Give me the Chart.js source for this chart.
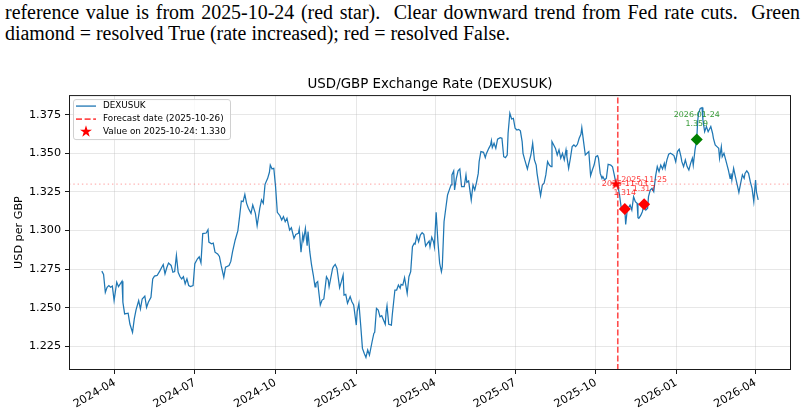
<!DOCTYPE html>
<html>
<head>
<meta charset="utf-8">
<script src="https://cdn.jsdelivr.net/npm/chart.js@4.4.1/dist/chart.umd.min.js"></script>
<style>
  html, body { margin: 0; padding: 0; background: #fff; }
  #wrap { position: relative; width: 804px; height: 418px; overflow: hidden; }
  #caption {
    position: absolute; left: 5px; top: 2px;
    font-family: "Liberation Serif", "Times New Roman", serif;
    font-size: 20px; line-height: 21px; color: #000;
    white-space: nowrap; transform-origin: 0 0;
  }
  #caption div { height: 21px; }
  canvas { position: absolute; left: 0; top: 0; }
</style>
</head>
<body>
<div id="wrap">
  <div id="caption">
    <div><span id="cap1">reference value is from 2025-10-24 (red star).&nbsp; Clear downward trend from Fed rate cuts.&nbsp; Green</span></div>
    <div><span id="cap2">diamond = resolved True (rate increased); red = resolved False.</span></div>
  </div>
  <canvas id="fxChart" width="804" height="418"></canvas>
</div>
<script>
// ----- Data -----
const dates = [
  "2024-03-17","2024-03-19","2024-03-21","2024-03-23","2024-03-25","2024-03-27","2024-03-29","2024-03-31",
  "2024-04-03","2024-04-05","2024-04-07","2024-04-09","2024-04-10","2024-04-12","2024-04-16","2024-04-18",
  "2024-04-21","2024-04-23","2024-04-25","2024-04-28","2024-04-30","2024-05-02","2024-05-05","2024-05-07",
  "2024-05-09","2024-05-12","2024-05-14","2024-05-16","2024-05-19","2024-05-22","2024-05-24","2024-05-26",
  "2024-05-28","2024-05-30","2024-06-01","2024-06-04","2024-06-06","2024-06-08","2024-06-10","2024-06-12",
  "2024-06-14","2024-06-16","2024-06-18","2024-06-20","2024-06-22","2024-06-24","2024-06-26","2024-06-29",
  "2024-07-01","2024-07-04","2024-07-06","2024-07-08","2024-07-10","2024-07-14","2024-07-16","2024-07-17",
  "2024-07-20","2024-07-22","2024-07-24","2024-07-27","2024-07-29","2024-07-31","2024-08-03","2024-08-05",
  "2024-08-09","2024-08-11","2024-08-13","2024-08-16","2024-08-19","2024-08-21","2024-08-23","2024-08-25",
  "2024-08-27","2024-08-29","2024-08-31","2024-09-03","2024-09-05","2024-09-08","2024-09-10","2024-09-13",
  "2024-09-15","2024-09-17","2024-09-19","2024-09-22","2024-09-24","2024-09-25","2024-09-27","2024-09-29",
  "2024-10-01","2024-10-03","2024-10-06","2024-10-08","2024-10-10","2024-10-12","2024-10-14","2024-10-17",
  "2024-10-19","2024-10-22","2024-10-24","2024-10-27","2024-10-28","2024-10-30","2024-11-01","2024-11-02",
  "2024-11-04","2024-11-06","2024-11-07","2024-11-09","2024-11-11","2024-11-13","2024-11-15","2024-11-16",
  "2024-11-18","2024-11-19","2024-11-21","2024-11-23","2024-11-25","2024-11-28","2024-11-30","2024-12-01",
  "2024-12-05","2024-12-06","2024-12-08","2024-12-10","2024-12-13","2024-12-15","2024-12-17","2024-12-18",
  "2024-12-20","2024-12-22","2024-12-25","2024-12-27","2024-12-29","2025-01-01","2025-01-02","2025-01-04",
  "2025-01-06","2025-01-08","2025-01-10","2025-01-12","2025-01-14","2025-01-16","2025-01-19","2025-01-21",
  "2025-01-22","2025-01-24","2025-01-26","2025-01-28","2025-01-30","2025-02-01","2025-02-03","2025-02-04",
  "2025-02-05","2025-02-07","2025-02-10","2025-02-11","2025-02-14","2025-02-16","2025-02-18","2025-02-20",
  "2025-02-21","2025-02-23","2025-02-25","2025-02-28","2025-03-02","2025-03-04","2025-03-06","2025-03-08",
  "2025-03-09","2025-03-11","2025-03-13","2025-03-15","2025-03-17","2025-03-19","2025-03-21","2025-03-23",
  "2025-03-25","2025-03-26","2025-03-28","2025-03-30","2025-03-31","2025-04-02","2025-04-04","2025-04-06",
  "2025-04-08","2025-04-09","2025-04-11","2025-04-13","2025-04-15","2025-04-17","2025-04-19","2025-04-20",
  "2025-04-22","2025-04-23","2025-04-25","2025-04-27","2025-04-29","2025-05-01","2025-05-04","2025-05-06",
  "2025-05-07","2025-05-09","2025-05-12","2025-05-14","2025-05-16","2025-05-18","2025-05-20","2025-05-21",
  "2025-05-23","2025-05-26","2025-05-28","2025-05-29","2025-06-01","2025-06-03","2025-06-04","2025-06-05",
  "2025-06-07","2025-06-09","2025-06-11","2025-06-14","2025-06-16","2025-06-18","2025-06-20","2025-06-22",
  "2025-06-23","2025-06-25","2025-06-27","2025-06-29","2025-07-01","2025-07-03","2025-07-05","2025-07-07",
  "2025-07-09","2025-07-10","2025-07-12","2025-07-15","2025-07-16","2025-07-19","2025-07-21","2025-07-23",
  "2025-07-25","2025-07-26","2025-07-28","2025-07-30","2025-08-01","2025-08-03","2025-08-05","2025-08-07",
  "2025-08-09","2025-08-11","2025-08-12","2025-08-14","2025-08-16","2025-08-18","2025-08-20","2025-08-22",
  "2025-08-24","2025-08-26","2025-08-28","2025-08-29","2025-08-31","2025-09-02","2025-09-04","2025-09-06",
  "2025-09-08","2025-09-10","2025-09-12","2025-09-14","2025-09-15","2025-09-17","2025-09-19","2025-09-21",
  "2025-09-23","2025-09-25","2025-09-27","2025-09-29","2025-10-01","2025-10-03","2025-10-04","2025-10-06",
  "2025-10-08","2025-10-09","2025-10-11","2025-10-13","2025-10-15","2025-10-18","2025-10-20","2025-10-22",
  "2025-10-24","2025-10-26","2025-10-28","2025-10-30","2025-11-01","2025-11-02","2025-11-03","2025-11-04",
  "2025-11-06","2025-11-08","2025-11-09","2025-11-11","2025-11-13","2025-11-15","2025-11-17","2025-11-18",
  "2025-11-19","2025-11-21","2025-11-23","2025-11-25","2025-11-27","2025-11-29","2025-11-30","2025-12-02",
  "2025-12-04","2025-12-06","2025-12-08","2025-12-10","2025-12-12","2025-12-14","2025-12-16","2025-12-18",
  "2025-12-19","2025-12-21","2025-12-23","2025-12-25","2025-12-27","2025-12-29","2025-12-31","2026-01-02",
  "2026-01-04","2026-01-06","2026-01-07","2026-01-09","2026-01-11","2026-01-13","2026-01-15","2026-01-17",
  "2026-01-19","2026-01-20","2026-01-22","2026-01-24","2026-01-25","2026-01-26","2026-01-28","2026-01-30",
  "2026-01-31","2026-02-02","2026-02-04","2026-02-06","2026-02-08","2026-02-09","2026-02-11","2026-02-12",
  "2026-02-14","2026-02-16","2026-02-18","2026-02-19","2026-02-21","2026-02-22","2026-02-24","2026-02-26",
  "2026-02-28","2026-03-01","2026-03-03","2026-03-04","2026-03-05","2026-03-07","2026-03-09","2026-03-11",
  "2026-03-13","2026-03-15","2026-03-17","2026-03-19","2026-03-20","2026-03-22","2026-03-24","2026-03-26",
  "2026-03-28","2026-03-30","2026-04-01","2026-04-02","2026-04-04"
];
const rates = [
  1.2737,1.2715,1.2600,1.2633,1.2644,1.2633,1.2640,1.2547,
  1.2666,1.2637,1.2655,1.2672,1.2536,1.2460,1.2465,1.2395,
  1.2341,1.2428,1.2486,1.2547,1.2493,1.2557,1.2575,1.2503,
  1.2536,1.2568,1.2687,1.2705,1.2709,1.2737,1.2759,1.2780,
  1.2720,1.2759,1.2789,1.2774,1.2730,1.2735,1.2839,1.2730,
  1.2702,1.2687,1.2702,1.2655,1.2687,1.2644,1.2637,1.2644,
  1.2785,1.2817,1.2830,1.2791,1.2980,1.2984,1.3005,1.2925,
  1.2914,1.2918,1.2860,1.2849,1.2832,1.2774,1.2698,1.2763,
  1.2774,1.2800,1.2863,1.2939,1.2997,1.3090,1.3191,1.3187,
  1.3234,1.3176,1.3144,1.3111,1.3165,1.3111,1.3031,1.3144,
  1.3198,1.3176,1.3299,1.3338,1.3377,1.3424,1.3399,1.3403,
  1.3284,1.3118,1.3096,1.3068,1.3090,1.3057,1.3079,1.3003,
  1.3018,1.2949,1.2975,1.2982,1.3010,1.2859,1.2971,1.2939,
  1.3014,1.2902,1.2993,1.2863,1.2777,1.2712,1.2636,1.2658,
  1.2669,1.2615,1.2518,1.2550,1.2557,1.2701,1.2680,1.2636,
  1.2755,1.2766,1.2781,1.2755,1.2630,1.2669,1.2712,1.2582,
  1.2587,1.2529,1.2572,1.2539,1.2518,1.2388,1.2475,1.2529,
  1.2388,1.2237,1.2205,1.2178,1.2227,1.2194,1.2280,1.2334,
  1.2341,1.2496,1.2485,1.2442,1.2449,1.2421,1.2393,1.2475,
  1.2513,1.2393,1.2388,1.2453,1.2615,1.2615,1.2647,1.2626,
  1.2651,1.2647,1.2695,1.2593,1.2701,1.2734,1.2895,1.2917,
  1.2912,1.2967,1.2928,1.2971,1.2986,1.2975,1.2900,1.2917,
  1.2932,1.2895,1.2957,1.2928,1.2895,1.3118,1.2928,1.2788,
  1.2734,1.2766,1.3057,1.3144,1.3230,1.3263,1.3295,1.3360,
  1.3386,1.3263,1.3338,1.3386,1.3399,1.3284,1.3284,1.3360,
  1.3312,1.3321,1.3198,1.3295,1.3263,1.3312,1.3370,1.3446,
  1.3511,1.3506,1.3472,1.3494,1.3532,1.3554,1.3582,1.3537,
  1.3565,1.3532,1.3591,1.3601,1.3597,1.3478,1.3472,1.3489,
  1.3630,1.3759,1.3722,1.3726,1.3662,1.3651,1.3655,1.3645,
  1.3576,1.3500,1.3457,1.3399,1.3424,1.3489,1.3565,1.3457,
  1.3424,1.3370,1.3295,1.3226,1.3295,1.3306,1.3360,1.3446,
  1.3424,1.3413,1.3576,1.3554,1.3532,1.3489,1.3522,1.3468,
  1.3500,1.3457,1.3522,1.3478,1.3403,1.3468,1.3543,1.3554,
  1.3543,1.3558,1.3597,1.3623,1.3666,1.3576,1.3489,1.3500,
  1.3511,1.3355,1.3392,1.3424,1.3478,1.3485,1.3468,1.3370,
  1.3338,1.3349,1.3327,1.3338,1.3429,1.3424,1.3413,1.3360,
  1.3300,1.3291,1.3230,1.3144,1.3122,1.3133,1.3140,1.3040,
  1.3144,1.3155,1.3165,1.3133,1.3219,1.3187,1.3176,1.3083,
  1.3079,1.3096,1.3122,1.3170,1.3133,1.3144,1.3219,1.3262,
  1.3273,1.3251,1.3349,1.3414,1.3381,1.3424,1.3399,1.3435,
  1.3403,1.3457,1.3494,1.3500,1.3494,1.3485,1.3446,1.3511,
  1.3526,1.3478,1.3446,1.3414,1.3457,1.3414,1.3392,1.3435,
  1.3468,1.3424,1.3522,1.3590,1.3705,1.3759,1.3791,1.3796,
  1.3716,1.3640,1.3673,1.3640,1.3662,1.3673,1.3630,1.3597,
  1.3554,1.3543,1.3532,1.3468,1.3543,1.3478,1.3500,1.3457,
  1.3414,1.3392,1.3338,1.3370,1.3327,1.3403,1.3349,1.3299,
  1.3247,1.3306,1.3360,1.3338,1.3370,1.3386,1.3370,1.3316,
  1.3273,1.3187,1.3327,1.3251,1.3198
];

const yTicks = [1.225, 1.25, 1.275, 1.3, 1.325, 1.35, 1.375];
const xTicks = ["2024-04", "2024-07", "2024-10", "2025-01", "2025-04", "2025-07", "2025-10", "2026-01", "2026-04"];

const forecastDate = "2025-10-26";
const refDate = "2025-10-24";
const refValue = 1.330;

const resolvedDates = ["2025-11-03", "2025-11-25", "2026-01-24"];
const resolvedValues = [1.314, 1.317, 1.359];
const resolvedTrue = [false, false, true];

// ----- Helpers -----
const toMs = (s) => {
  const [y, m, d] = s.split("-").map(Number);
  return Date.UTC(y, m - 1, d || 1);
};
const fmtMonth = (ms) => {
  const d = new Date(ms);
  return d.getUTCFullYear() + "-" + String(d.getUTCMonth() + 1).padStart(2, "0");
};

// matplotlib style 5% margins around the data
const xs = dates.map(toMs);
const xPad = 0.05 * (xs[xs.length - 1] - xs[0]);
const xMin = xs[0] - xPad, xMax = xs[xs.length - 1] + xPad;
const yLo = Math.min(...rates), yHi = Math.max(...rates);
const yPad = 0.05 * (yHi - yLo);
const yMin = yLo - yPad, yMax = yHi + yPad;

const RED = "#ff0000", GREEN = "#008000", BLUE = "#1f77b4";

// filled 5-point star, like matplotlib's "*"
function starPath(c, cx, cy, r) {
  c.beginPath();
  for (let i = 0; i < 10; i++) {
    const rr = i % 2 ? r * 0.382 : r;
    const a = -Math.PI / 2 + i * Math.PI / 5;
    const px = cx + rr * Math.cos(a), py = cy + rr * Math.sin(a);
    i ? c.lineTo(px, py) : c.moveTo(px, py);
  }
  c.closePath();
}
function starImage(r, color) {
  const cv = document.createElement("canvas");
  cv.width = cv.height = Math.ceil(2 * r + 2);
  const c = cv.getContext("2d");
  starPath(c, cv.width / 2, cv.height / 2, r);
  c.fillStyle = color;
  c.fill();
  return cv;
}

// ----- Plugins -----
const framePlugin = {
  id: "frame",
  afterDatasetsDraw(chart) {
    const { ctx, chartArea: { left, top, right, bottom } } = chart;
    ctx.save();
    ctx.strokeStyle = "#1a1a1a";
    ctx.lineWidth = 1;
    ctx.strokeRect(left + 0.5, top + 0.5, right - left - 1, bottom - top - 1);
    ctx.restore();
  }
};

const resolvedLabels = {
  id: "resolvedLabels",
  afterDatasetsDraw(chart) {
    const { ctx, scales: { x, y } } = chart;
    ctx.save();
    ctx.font = "7.9px 'DejaVu Sans'";
    ctx.textAlign = "center";
    ctx.textBaseline = "middle";
    resolvedDates.forEach((d, i) => {
      const px = x.getPixelForValue(toMs(d));
      const py = y.getPixelForValue(resolvedValues[i]);
      ctx.fillStyle = resolvedTrue[i] ? "rgba(0,128,0,0.8)" : "rgba(255,0,0,0.8)";
      ctx.fillText(d, px, py - 24.5);
      ctx.fillText(resolvedValues[i].toFixed(3), px, py - 15.5);
    });
    ctx.restore();
  }
};

const boxLegend = {
  id: "boxLegend",
  afterDraw(chart) {
    const { ctx, chartArea: { left, top } } = chart;
    const x0 = left + 4.5, y0 = top + 4.5, w = 157, h = 40;
    ctx.save();
    ctx.beginPath();
    ctx.roundRect(x0, y0, w, h, 2.5);
    ctx.fillStyle = "rgba(255,255,255,0.8)";
    ctx.fill();
    ctx.strokeStyle = "#d0d0d0";
    ctx.lineWidth = 1;
    ctx.stroke();

    const rows = [y0 + 6.5, y0 + 19.5, y0 + 32];
    const sx0 = x0 + 2.5, sx1 = x0 + 22.5, tx = x0 + 29.5;

    ctx.lineWidth = 1.3;
    ctx.strokeStyle = BLUE;
    ctx.beginPath(); ctx.moveTo(sx0, rows[0]); ctx.lineTo(sx1, rows[0]); ctx.stroke();

    ctx.lineWidth = 1.6;
    ctx.strokeStyle = "rgba(255,0,0,0.7)";
    ctx.setLineDash([6, 2.6]);
    ctx.beginPath(); ctx.moveTo(sx0, rows[1]); ctx.lineTo(sx1, rows[1]); ctx.stroke();
    ctx.setLineDash([]);

    starPath(ctx, (sx0 + sx1) / 2, rows[2], 6.3);
    ctx.fillStyle = RED;
    ctx.fill();

    ctx.font = "8.8px 'DejaVu Sans'";
    ctx.fillStyle = "#000";
    ctx.textAlign = "left";
    ctx.textBaseline = "middle";
    ctx.fillText("DEXUSUK", tx, rows[0]);
    ctx.fillText("Forecast date (" + forecastDate + ")", tx, rows[1]);
    ctx.fillText("Value on " + refDate + ": " + refValue.toFixed(3), tx, rows[2]);
    ctx.restore();
  }
};

// ----- Chart -----
Chart.defaults.font.family = "'DejaVu Sans'";
Chart.defaults.color = "#000";

const ctx = document.getElementById("fxChart").getContext("2d");
const chart = new Chart(ctx, {
  type: "line",
  data: {
    datasets: [
      {
        label: "resolved",
        type: "scatter",
        data: resolvedDates.map((d, i) => ({ x: toMs(d), y: resolvedValues[i] })),
        pointStyle: "rectRot",
        pointRadius: 6,
        pointBackgroundColor: resolvedTrue.map((t) => (t ? GREEN : RED)),
        pointBorderColor: resolvedTrue.map((t) => (t ? GREEN : RED)),
        pointBorderWidth: 0,
        order: 0
      },
      {
        label: "Value on " + refDate,
        type: "scatter",
        data: [{ x: toMs(refDate), y: refValue }],
        pointStyle: starImage(6.2, RED),
        order: 1
      },
      {
        label: "reference level",
        data: [{ x: xMin, y: refValue }, { x: xMax, y: refValue }],
        borderColor: "rgba(255,0,0,0.3)",
        borderWidth: 1.2,
        borderDash: [1.4, 2.9],
        pointRadius: 0,
        order: 2
      },
      {
        label: "Forecast date",
        data: [{ x: toMs(forecastDate), y: yMin }, { x: toMs(forecastDate), y: yMax }],
        borderColor: "rgba(255,0,0,0.7)",
        borderWidth: 1.6,
        borderDash: [6, 2.6],
        pointRadius: 0,
        order: 3
      },
      {
        label: "DEXUSUK",
        data: xs.map((x, i) => ({ x, y: rates[i] })),
        borderColor: BLUE,
        borderWidth: 1.25,
        pointRadius: 0,
        tension: 0,
        order: 4
      }
    ]
  },
  options: {
    responsive: false,
    animation: false,
    events: [],
    layout: { padding: { left: 0, right: 13, top: 0, bottom: 0 } },
    plugins: {
      legend: { display: false },
      tooltip: { enabled: false },
      title: {
        display: true,
        text: "USD/GBP Exchange Rate (DEXUSUK)",
        fullSize: false,
        color: "#000",
        font: { size: 13.4, weight: "normal", family: "'DejaVu Sans'" },
        padding: { top: 76, bottom: 3 }
      }
    },
    scales: {
      x: {
        type: "linear",
        min: xMin,
        max: xMax,
        afterBuildTicks: (s) => { s.ticks = xTicks.map((t) => ({ value: toMs(t) })); },
        afterFit: (s) => { s.height = 48; },
        ticks: {
          autoSkip: false,
          minRotation: 30,
          maxRotation: 30,
          padding: 2,
          color: "#000",
          font: { size: 11.2 },
          callback: (v) => fmtMonth(v)
        },
        grid: { color: "rgba(176,176,176,0.3)", tickColor: "#1a1a1a", tickLength: 4, tickWidth: 1 },
        border: { display: false }
      },
      y: {
        type: "linear",
        min: yMin,
        max: yMax,
        afterBuildTicks: (s) => { s.ticks = yTicks.map((v) => ({ value: v })); },
        afterFit: (s) => { s.width = 69; },
        ticks: {
          padding: 4,
          color: "#000",
          font: { size: 11.2 },
          callback: (v) => v.toFixed(3)
        },
        title: {
          display: true,
          text: "USD per GBP",
          color: "#000",
          font: { size: 11.2 },
          padding: { top: 12, bottom: 0 }
        },
        grid: { color: "rgba(176,176,176,0.3)", tickColor: "#1a1a1a", tickLength: 4, tickWidth: 1 },
        border: { display: false }
      }
    }
  },
  plugins: [framePlugin, resolvedLabels, boxLegend]
});

// caption: line 2 is the natural (last) line, line 1 is justified to the full width
const cap = document.getElementById("caption");
const cap1 = document.getElementById("cap1");
const squeeze = 505 / document.getElementById("cap2").getBoundingClientRect().width;
const w1 = cap1.getBoundingClientRect().width;
const nSpaces = cap1.textContent.split(/[ \u00a0]/).length - 1;
cap1.style.wordSpacing = Math.max(0, (795 / squeeze - w1) / nSpaces) + "px";
cap.style.transform = "scaleX(" + squeeze + ")";
</script>
</body>
</html>
